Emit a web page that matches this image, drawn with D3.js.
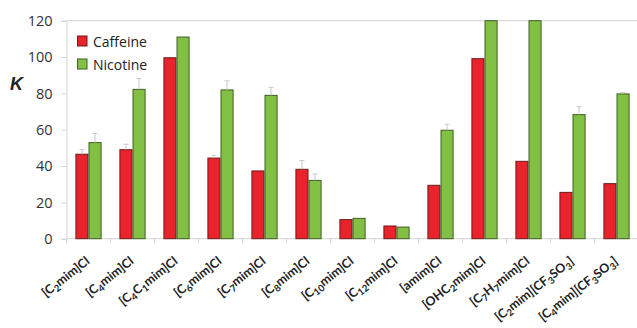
<!DOCTYPE html>
<html>
<head>
<meta charset="utf-8">
<script src="https://cdn.jsdelivr.net/npm/d3@7"></script>
<style>
  html, body { margin: 0; padding: 0; background: #fff; }
  svg { display: block; }
</style>
</head>
<body>
<svg id="chart" width="637" height="328"></svg>
<script>
// Ionic liquids: each label is a list of [text, isSubscript] pieces
const categories = [
  [["[C", 0], ["2", 1], ["mim]Cl", 0]],
  [["[C", 0], ["4", 1], ["mim]Cl", 0]],
  [["[C", 0], ["4", 1], ["C", 0], ["1", 1], ["mim]Cl", 0]],
  [["[C", 0], ["6", 1], ["mim]Cl", 0]],
  [["[C", 0], ["7", 1], ["mim]Cl", 0]],
  [["[C", 0], ["8", 1], ["mim]Cl", 0]],
  [["[C", 0], ["10", 1], ["mim]Cl", 0]],
  [["[C", 0], ["12", 1], ["mim]Cl", 0]],
  [["[amim]Cl", 0]],
  [["[OHC", 0], ["2", 1], ["mim]Cl", 0]],
  [["[C", 0], ["7", 1], ["H", 0], ["7", 1], ["mim]Cl", 0]],
  [["[C", 0], ["2", 1], ["mim][CF", 0], ["3", 1], ["SO", 0], ["3", 1], ["]", 0]],
  [["[C", 0], ["4", 1], ["mim][CF", 0], ["3", 1], ["SO", 0], ["3", 1], ["]", 0]]
];

const caffeine    = [46.5, 49, 99.6, 44.4, 37.3, 38.2, 10.5, 7.0, 29.4, 99.1, 42.6, 25.5, 30.3];
const caffeineErr = [2.5, 3, 0, 1.5, 0, 4.8, 0, 0, 0, 0, 0, 0, 0];
const nicotine    = [52.9, 82.2, 111, 81.9, 78.9, 32.1, 11.2, 6.4, 59.7, 120, 120, 68.3, 79.7];
const nicotineErr = [5, 6, 0, 5, 4.4, 3.5, 0, 0, 3.3, 0, 0, 4.4, 0.7];

const seriesNames = ["Caffeine", "Nicotine"];
const yTicks = [0, 20, 40, 60, 80, 100, 120];

const colors = { fill: ["#e8232b", "#82c045"], stroke: ["#6e1a1a", "#3f5e24"] };
const axisColor = "#d4d4d4";

const svg = d3.select("#chart");
const margin = { left: 66.5, right: -1.5, top: 20.7, bottom: 89.3 };
const W = 637, H = 328;

const x = d3.scaleBand()
  .domain(d3.range(categories.length))
  .range([margin.left, W - margin.right])
  .paddingInner(0.405)
  .paddingOuter(0.2025);
const step = x.step();
const xGroup = d3.scaleBand().domain([0, 1]).range([0, x.bandwidth()]);

const y = d3.scaleLinear().domain([0, 120]).range([H - margin.bottom, margin.top]);

// top frame line at the axis maximum
svg.append("line")
  .attr("x1", margin.left).attr("x2", W)
  .attr("y1", y(120)).attr("y2", y(120))
  .attr("stroke", axisColor).attr("stroke-width", 1);

// y axis
const yAxis = svg.append("g")
  .attr("transform", `translate(${margin.left},0)`)
  .call(d3.axisLeft(y).tickValues(yTicks).tickSize(5).tickPadding(9));
yAxis.select(".domain").attr("stroke", axisColor);
yAxis.selectAll(".tick line").attr("stroke", axisColor);
yAxis.selectAll(".tick text")
  .attr("fill", "#333")
  .style("font-family", "'Open Sans', sans-serif")
  .style("font-size", "14.5px");

// x axis baseline with ticks between categories
const y0 = y(0);
svg.append("line")
  .attr("x1", margin.left).attr("x2", W)
  .attr("y1", y0).attr("y2", y0)
  .attr("stroke", axisColor);
svg.append("g").selectAll("line")
  .data(d3.range(categories.length + 1))
  .join("line")
  .attr("x1", i => margin.left + i * step).attr("x2", i => margin.left + i * step)
  .attr("y1", y0).attr("y2", y0 + 4)
  .attr("stroke", axisColor);

// bars
const series = [caffeine, nicotine];
const errs = [caffeineErr, nicotineErr];
series.forEach((vals, s) => {
  const g = svg.append("g");
  g.selectAll("rect")
    .data(vals)
    .join("rect")
    .attr("x", (d, i) => x(i) + xGroup(s) + 0.5)
    .attr("width", xGroup.bandwidth() - 1)
    .attr("y", d => y(d))
    .attr("height", d => y(0) - y(d))
    .attr("fill", colors.fill[s])
    .attr("stroke", colors.stroke[s])
    .attr("stroke-width", 1);

  // error bars (upper half)
  const eg = svg.append("g").attr("stroke", "#c8c8c8").attr("stroke-width", 1);
  vals.forEach((v, i) => {
    const e = errs[s][i];
    if (!e) return;
    const cx = x(i) + xGroup(s) + xGroup.bandwidth() / 2;
    eg.append("line").attr("x1", cx).attr("x2", cx).attr("y1", y(v)).attr("y2", y(v + e));
    eg.append("line").attr("x1", cx - 2.5).attr("x2", cx + 2.5).attr("y1", y(v + e)).attr("y2", y(v + e));
  });
});

// category labels, rotated
const labels = svg.append("g")
  .style("font-family", "Lato, 'Open Sans', sans-serif")
  .style("font-weight", "700")
  .style("font-size", "12.5px")
  .attr("fill", "#222");
categories.forEach((parts, i) => {
  const cx = x(i) + x.bandwidth() / 2 + 2;
  const t = labels.append("text")
    .attr("text-anchor", "end")
    .attr("transform", `translate(${cx},${y0 + 24}) rotate(-38)`);
  parts.forEach(([txt, sub]) => {
    const ts = t.append("tspan").text(txt);
    if (sub) ts.attr("baseline-shift", "-25%").style("font-size", "9.5px");
  });
});

// y axis title
svg.append("text")
  .attr("x", 10).attr("y", 90)
  .style("font-family", "'Liberation Sans', Arial, sans-serif")
  .style("font-weight", "bold")
  .style("font-style", "italic")
  .style("font-size", "18px")
  .attr("fill", "#222")
  .text("K");

// legend
const legend = svg.append("g");
seriesNames.forEach((name, s) => {
  const ly = 36 + s * 23;
  legend.append("rect")
    .attr("x", 77.5).attr("y", ly).attr("width", 9.5).attr("height", 10)
    .attr("fill", colors.fill[s]).attr("stroke", colors.stroke[s]);
  legend.append("text")
    .attr("x", 93).attr("y", ly + 10.5)
    .style("font-family", "'Open Sans', sans-serif")
    .style("font-size", "14px")
    .attr("fill", "#222")
    .text(name);
});
</script>
</body>
</html>
